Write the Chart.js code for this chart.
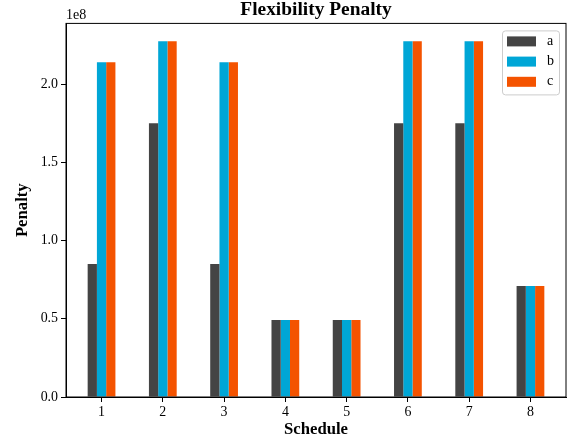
<!DOCTYPE html>
<html>
<head>
<meta charset="utf-8">
<script src="https://cdn.jsdelivr.net/npm/chart.js@4/dist/chart.umd.min.js"></script>
<style>
  html, body { margin: 0; padding: 0; background: #fff; }
  #wrap { width: 573px; height: 446px; position: relative; }
</style>
</head>
<body>
<div id="wrap"><canvas id="myChart"></canvas></div>
<script>
// Datos (unidades de 1e8)
const schedules = [1, 2, 3, 4, 5, 6, 7, 8];
const serieA = [0.85, 1.75, 0.85, 0.492, 0.492, 1.75, 1.75, 0.709];
const serieB = [2.141, 2.275, 2.141, 0.492, 0.492, 2.275, 2.275, 0.709];
const serieC = [2.141, 2.275, 2.141, 0.492, 0.492, 2.275, 2.275, 0.709];
const seriesNames = ['a', 'b', 'c'];
const seriesColors = ['#444444', '#00a6d6', '#f45300'];
const yTicks = [0, 0.5, 1.0, 1.5, 2.0];

const SERIF = "'Liberation Serif', 'Times New Roman', serif";
const escala = 1e8;

function puntos(serie) {
    return schedules.map((s, i) => ({ x: s, y: serie[i] * escala }));
}

const yMax = Math.max(...serieA, ...serieB, ...serieC) * 1.05 * escala;

// Marco completo (como matplotlib), texto "1e8" y leyenda con borde
const extras = {
    id: 'extras',
    afterDraw(chart) {
        const ctx = chart.ctx;
        const ca = chart.chartArea;
        ctx.save();
        ctx.strokeStyle = '#000';
        ctx.lineWidth = 1;
        ctx.strokeRect(ca.left, ca.top, ca.right - ca.left, ca.bottom - ca.top);

        ctx.fillStyle = '#000';
        ctx.font = '14px ' + SERIF;
        ctx.textAlign = 'left';
        ctx.textBaseline = 'alphabetic';
        ctx.fillText('1e8', ca.left, ca.top - 4);

        // leyenda
        const bx = ca.right - 64, by = ca.top + 7, bw = 57, bh = 64;
        ctx.beginPath();
        ctx.roundRect(bx + 0.5, by + 0.5, bw, bh, 3);
        ctx.fillStyle = 'rgba(255,255,255,0.8)';
        ctx.fill();
        ctx.strokeStyle = '#cccccc';
        ctx.stroke();
        chart.data.datasets.forEach((ds, i) => {
            const cy = by + 11 + i * 20.2;
            ctx.fillStyle = ds.backgroundColor;
            ctx.fillRect(bx + 5, cy - 5, 29, 10);
            ctx.fillStyle = '#000';
            ctx.font = '14px ' + SERIF;
            ctx.textBaseline = 'middle';
            ctx.fillText(ds.label, bx + 45, cy);
        });
        ctx.restore();
    }
};

new Chart(document.getElementById('myChart'), {
    type: 'bar',
    data: {
        datasets: [serieA, serieB, serieC].map((serie, i) => ({
            label: seriesNames[i],
            data: puntos(serie),
            backgroundColor: seriesColors[i],
            borderWidth: 0,
            categoryPercentage: 0.453,
            barPercentage: 1.0
        }))
    },
    options: {
        responsive: true,
        maintainAspectRatio: false,
        animation: false,
        layout: { padding: { left: 0, right: 7, top: 0, bottom: 0 } },
        plugins: {
            legend: { display: false },
            tooltip: { enabled: false },
            title: {
                display: true,
                text: 'Flexibility Penalty',
                fullSize: false,
                color: '#000',
                font: { family: SERIF, size: 19.4, weight: 'bold', lineHeight: 1 },
                padding: { top: 0, bottom: 4 }
            }
        },
        scales: {
            x: {
                type: 'linear',
                min: 0.42,
                max: 8.58,
                offset: false,
                grid: { display: true, offset: false, drawOnChartArea: false, drawTicks: true, tickLength: 5, color: '#000' },
                border: { display: true, color: '#000', width: 1 },
                ticks: {
                    stepSize: 1,
                    includeBounds: false,
                    autoSkip: false,
                    maxRotation: 0,
                    padding: 2,
                    color: '#000',
                    font: { family: SERIF, size: 13.9 }
                },
                title: {
                    display: true,
                    text: 'Schedule',
                    color: '#000',
                    font: { family: SERIF, size: 16.7, weight: 'bold' },
                    padding: { top: 0, bottom: 6 }
                },
                afterFit(scale) { scale.height = 49; }
            },
            y: {
                min: 0,
                max: yMax,
                grid: { display: true, drawOnChartArea: false, drawTicks: true, tickLength: 5, color: '#000' },
                border: { display: true, color: '#000', width: 1 },
                afterBuildTicks(scale) {
                    scale.ticks = yTicks.map(v => ({ value: v * escala }));
                },
                ticks: {
                    padding: 3,
                    color: '#000',
                    font: { family: SERIF, size: 13.9 },
                    callback: v => (v / escala).toFixed(1)
                },
                title: {
                    display: true,
                    text: 'Penalty',
                    color: '#000',
                    font: { family: SERIF, size: 16.7, weight: 'bold' },
                    padding: { top: 12.5, bottom: 0 }
                },
                afterFit(scale) { scale.width = 66; }
            }
        }
    },
    plugins: [extras]
});
</script>
</body>
</html>
